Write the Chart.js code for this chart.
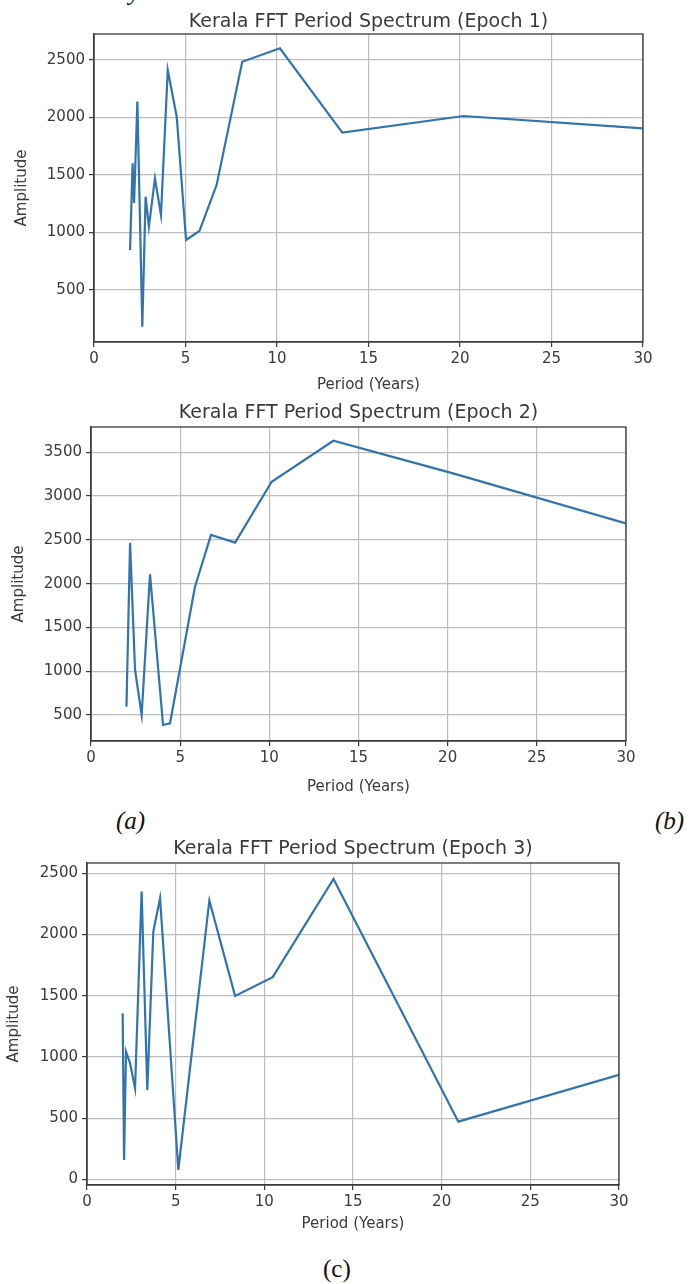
<!DOCTYPE html>
<html>
<head>
<meta charset="utf-8">
<script src="https://cdn.jsdelivr.net/npm/chart.js@4/dist/chart.umd.min.js"></script>
<style>
  body { margin: 0; background: #fff; }
  #page { position: relative; width: 693px; height: 1284px; overflow: hidden; background: #fff; }
  .box { position: absolute; left: 0; }
  .cap { position: absolute; font-family: "Liberation Serif", serif; font-size: 25px; color: #111; line-height: 29px; }
</style>
</head>
<body>
<div id="page">
  <div class="cap" style="left:129px; top:-23px; font-style:italic;">y</div>
  <div class="cap" style="left:116px; top:806px; font-style:italic;">(a)</div>
  <div class="cap" style="left:655px; top:806px; font-style:italic;">(b)</div>
  <div class="cap" style="left:323px; top:1254px;">(c)</div>
  <div class="box" id="box1"><canvas id="chart1"></canvas></div>
  <div class="box" id="box2"><canvas id="chart2"></canvas></div>
  <div class="box" id="box3"><canvas id="chart3"></canvas></div>
</div>
<script>
// period (years) and FFT amplitude
const epoch1Period = [1.97, 2.11, 2.19, 2.37, 2.64, 2.82, 3.0, 3.33, 3.66, 4.03, 4.52, 5.03, 5.76, 6.7, 8.1, 10.16, 13.57, 20.2, 30];
const epoch1Amp = [848, 1602, 1257, 2138, 181, 1311, 1051, 1471, 1152, 2413, 2007, 935, 1013, 1413, 2485, 2602, 1868, 2013, 1906];

const epoch2Period = [1.99, 2.19, 2.47, 2.84, 3.31, 4.04, 4.43, 5.83, 6.73, 8.08, 10.13, 13.59, 20.3, 30];
const epoch2Amp = [595, 2468, 1014, 500, 2107, 386, 405, 1965, 2556, 2468, 3164, 3632, 3260, 2689];

const epoch3Period = [2.01, 2.09, 2.2, 2.43, 2.71, 3.08, 3.4, 3.74, 4.12, 5.15, 6.9, 8.35, 10.47, 13.9, 20.94, 30];
const epoch3Amp = [1358, 159, 1044, 949, 745, 2351, 731, 2025, 2297, 78, 2278, 1499, 1652, 2453, 472, 854];

const xTicks = [0, 5, 10, 15, 20, 25, 30];
const yTicks1 = [500, 1000, 1500, 2000, 2500];
const yTicks2 = [500, 1000, 1500, 2000, 2500, 3000, 3500];
const yTicks3 = [0, 500, 1000, 1500, 2000, 2500];

const panels = [
  { id: 'chart1', box: 'box1', title: 'Kerala FFT Period Spectrum (Epoch 1)', x: epoch1Period, y: epoch1Amp, yTicks: yTicks1,
    yMin: 48, yMax: 2726, frame: { left: 94, right: 643, top: 34, bottom: 342 }, titleY: 22, xLabelOff: 43, yLabelX: 22 },
  { id: 'chart2', box: 'box2', title: 'Kerala FFT Period Spectrum (Epoch 2)', x: epoch2Period, y: epoch2Amp, yTicks: yTicks2,
    yMin: 203, yMax: 3789, frame: { left: 91, right: 626, top: 427, bottom: 741 }, titleY: 413, xLabelOff: 46, yLabelX: 19 },
  { id: 'chart3', box: 'box3', title: 'Kerala FFT Period Spectrum (Epoch 3)', x: epoch3Period, y: epoch3Amp, yTicks: yTicks3,
    yMin: -45, yMax: 2584, frame: { left: 87, right: 619, top: 863, bottom: 1185 }, titleY: 849.5, xLabelOff: 39, yLabelX: 14 }
];

const W = 693;
const TOP_SPACE = 34;
const X_AXIS_H = 60;
const TICK_FONT = 15;
const textColor = '#3a3a3a';
const frameColor = '#3a3a3a';
const gridColor = '#bdbdbd';

// matplotlib style box round the plot area, and title centred on the axes
const framePlugin = {
  id: 'frame',
  afterDraw(chart, args, opts) {
    const a = chart.chartArea;
    const ctx = chart.ctx;
    ctx.save();
    ctx.strokeStyle = frameColor;
    ctx.lineWidth = 1.3;
    ctx.strokeRect(a.left, a.top, a.right - a.left, a.bottom - a.top);
    ctx.fillStyle = textColor;
    ctx.font = '19px "DejaVu Sans"';
    ctx.textAlign = 'center';
    ctx.textBaseline = 'middle';
    ctx.fillText(opts.text, (a.left + a.right) / 2, a.top - opts.gap);
    ctx.restore();
  }
};

panels.forEach(p => {
  const f = p.frame;
  const h = f.bottom - f.top + TOP_SPACE + X_AXIS_H;
  const box = document.getElementById(p.box);
  box.style.top = (f.top - TOP_SPACE) + 'px';
  box.style.width = W + 'px';
  box.style.height = h + 'px';
  const canvas = document.getElementById(p.id);
  canvas.width = W;
  canvas.height = h;

  const points = p.x.map((v, i) => ({ x: v, y: p.y[i] }));
  const lh = TICK_FONT * 1.2;

  new Chart(canvas, {
    type: 'line',
    data: {
      datasets: [{
        data: points,
        borderColor: '#3274ae',
        borderWidth: 2.2,
        pointRadius: 0,
        tension: 0,
        fill: false
      }]
    },
    options: {
      responsive: false,
      animation: false,
      layout: { padding: { left: 0, right: W - f.right, top: TOP_SPACE, bottom: 0 } },
      plugins: {
        legend: { display: false },
        tooltip: { enabled: false },
        frame: { text: p.title, gap: f.top - p.titleY }
      },
      scales: {
        x: {
          type: 'linear',
          min: 0,
          max: 30,
          afterBuildTicks: s => { s.ticks = xTicks.map(v => ({ value: v })); },
          afterFit: s => { s.height = X_AXIS_H; },
          ticks: { color: textColor, font: { family: 'DejaVu Sans', size: TICK_FONT }, padding: 3, maxRotation: 0,
                   callback: v => String(v) },
          grid: { color: gridColor, lineWidth: 1.2, tickLength: 5, tickColor: frameColor },
          border: { display: true, color: frameColor, width: 1.3 },
          title: {
            display: true,
            text: 'Period (Years)',
            color: textColor,
            font: { family: 'DejaVu Sans', size: TICK_FONT },
            padding: { top: 0, bottom: X_AXIS_H - p.xLabelOff - lh / 2 }
          }
        },
        y: {
          type: 'linear',
          min: p.yMin,
          max: p.yMax,
          afterBuildTicks: s => { s.ticks = p.yTicks.map(v => ({ value: v })); },
          afterFit: s => { s.width = f.left; },
          ticks: { color: textColor, font: { family: 'DejaVu Sans', size: TICK_FONT }, padding: 4,
                   callback: v => String(v) },
          grid: { color: gridColor, lineWidth: 1.2, tickLength: 5, tickColor: frameColor },
          border: { display: true, color: frameColor, width: 1.3 },
          title: {
            display: true,
            text: 'Amplitude',
            color: textColor,
            font: { family: 'DejaVu Sans', size: TICK_FONT },
            padding: { top: p.yLabelX - lh / 2, bottom: 0 }
          }
        }
      }
    },
    plugins: [framePlugin]
  });
});
</script>
</body>
</html>
